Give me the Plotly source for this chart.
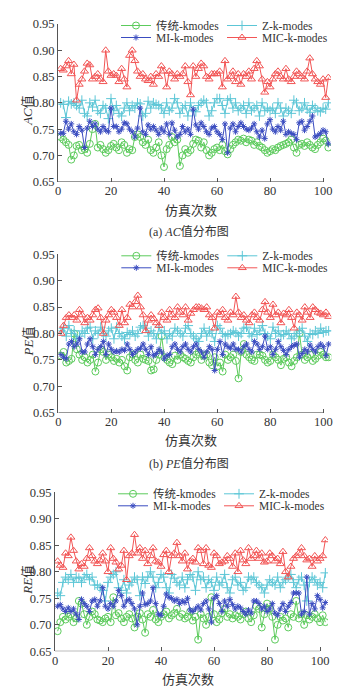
import plotly.graph_objects as go

# ---------------- data ----------------
runs = list(range(1, 103))
series_names = ["传统-kmodes", "Z-k-modes", "MI-k-modes", "MIC-k-modes"]
y_tick_vals = [0.65, 0.70, 0.75, 0.80, 0.85, 0.90, 0.95]
x_tick_vals = [0, 20, 40, 60, 80, 100]
y_titles = ["<i>AC</i>值", "<i>PE</i>值", "<i>RE</i>值"]
captions = ["(a) <i>AC</i>值分布图", "(b) <i>PE</i>值分布图"]
x_title = "仿真次数"

ac_trad = [0.735, 0.730, 0.725, 0.720, 0.692, 0.700, 0.718, 0.720, 0.710, 0.712,
           0.705, 0.722, 0.750, 0.760, 0.715, 0.720, 0.712, 0.705, 0.710, 0.718,
           0.722, 0.715, 0.710, 0.725, 0.720, 0.705, 0.712, 0.710, 0.735, 0.740,
           0.735, 0.725, 0.720, 0.730, 0.710, 0.705, 0.715, 0.725, 0.700, 0.678,
           0.712, 0.720, 0.735, 0.725, 0.730, 0.680, 0.700, 0.712, 0.705, 0.710,
           0.722, 0.730, 0.728, 0.715, 0.725, 0.710, 0.700, 0.705, 0.712, 0.715,
           0.710, 0.720, 0.708, 0.702, 0.712, 0.720, 0.725, 0.730, 0.728, 0.732,
           0.725, 0.730, 0.728, 0.720, 0.725, 0.718, 0.715, 0.710, 0.705, 0.708,
           0.712, 0.710, 0.715, 0.718, 0.720, 0.722, 0.725, 0.730, 0.715, 0.705,
           0.720, 0.722, 0.718, 0.725, 0.720, 0.715, 0.712, 0.720, 0.725, 0.732,
           0.728, 0.715]
ac_z = [0.800, 0.797, 0.772, 0.803, 0.798, 0.800, 0.795, 0.790, 0.805, 0.780,
        0.775, 0.800, 0.792, 0.805, 0.785, 0.780, 0.795, 0.790, 0.770, 0.808,
        0.785, 0.795, 0.780, 0.775, 0.790, 0.800, 0.785, 0.795, 0.790, 0.800,
        0.798, 0.775, 0.780, 0.803, 0.790, 0.800, 0.797, 0.795, 0.790, 0.780,
        0.800, 0.785, 0.790, 0.808, 0.800, 0.780, 0.790, 0.795, 0.775, 0.800,
        0.785, 0.783, 0.795, 0.800, 0.805, 0.800, 0.775, 0.785, 0.800, 0.808,
        0.808, 0.795, 0.780, 0.805, 0.808, 0.790, 0.800, 0.785, 0.790, 0.795,
        0.780, 0.800, 0.785, 0.790, 0.795, 0.775, 0.800, 0.785, 0.790, 0.785,
        0.790, 0.780, 0.800, 0.790, 0.775, 0.790, 0.785, 0.780, 0.805, 0.800,
        0.785, 0.790, 0.800, 0.788, 0.782, 0.795, 0.790, 0.785, 0.783, 0.790,
        0.788, 0.800]
ac_mi = [0.742, 0.742, 0.765, 0.750, 0.760, 0.745, 0.740, 0.755, 0.748, 0.715,
         0.752, 0.765, 0.755, 0.760, 0.750, 0.745, 0.755, 0.748, 0.745, 0.790,
         0.755, 0.755, 0.745, 0.750, 0.762, 0.760, 0.750, 0.745, 0.735, 0.752,
         0.790, 0.745, 0.740, 0.758, 0.750, 0.755, 0.748, 0.740, 0.752, 0.745,
         0.760, 0.740, 0.762, 0.748, 0.735, 0.740, 0.755, 0.745, 0.750, 0.740,
         0.788, 0.758, 0.750, 0.762, 0.755, 0.745, 0.740, 0.752, 0.755, 0.745,
         0.740, 0.730, 0.760, 0.705, 0.752, 0.760, 0.745, 0.755, 0.762, 0.755,
         0.750, 0.748, 0.752, 0.760, 0.745, 0.735, 0.748, 0.732, 0.760, 0.768,
         0.750, 0.745, 0.755, 0.748, 0.765, 0.740, 0.745, 0.742, 0.740, 0.730,
         0.762, 0.765, 0.748, 0.755, 0.765, 0.775, 0.735, 0.738, 0.742, 0.748,
         0.745, 0.722]
ac_mic = [0.865, 0.862, 0.870, 0.880, 0.855, 0.873, 0.805, 0.835, 0.845, 0.860,
          0.875, 0.872, 0.845, 0.850, 0.855, 0.845, 0.840, 0.900, 0.860, 0.852,
          0.855, 0.852, 0.840, 0.865, 0.845, 0.830, 0.890, 0.900, 0.880, 0.860,
          0.850, 0.855, 0.845, 0.842, 0.850, 0.835, 0.855, 0.850, 0.870, 0.860,
          0.830, 0.860, 0.855, 0.845, 0.855, 0.850, 0.855, 0.870, 0.840, 0.815,
          0.870, 0.850, 0.865, 0.875, 0.870, 0.850, 0.845, 0.855, 0.855, 0.855,
          0.860, 0.830, 0.880, 0.845, 0.850, 0.860, 0.840, 0.855, 0.835, 0.855,
          0.850, 0.860, 0.845, 0.865, 0.880, 0.870, 0.845, 0.820, 0.840, 0.830,
          0.845, 0.855, 0.860, 0.850, 0.845, 0.865, 0.845, 0.840, 0.850, 0.860,
          0.855, 0.850, 0.845, 0.860, 0.885, 0.855, 0.845, 0.840, 0.835, 0.845,
          0.810, 0.848]

pe_trad = [0.758, 0.765, 0.745, 0.748, 0.752, 0.800, 0.770, 0.760, 0.750, 0.755,
           0.745, 0.750, 0.760, 0.728, 0.745, 0.770, 0.765, 0.750, 0.760, 0.755,
           0.748, 0.752, 0.745, 0.750, 0.738, 0.730, 0.755, 0.760, 0.750, 0.745,
           0.760, 0.752, 0.750, 0.748, 0.730, 0.732, 0.750, 0.760, 0.795, 0.755,
           0.750, 0.745, 0.742, 0.758, 0.750, 0.760, 0.755, 0.752, 0.748, 0.745,
           0.755, 0.760, 0.765, 0.750, 0.758, 0.760, 0.745, 0.740, 0.755, 0.738,
           0.745, 0.728, 0.760, 0.750, 0.755, 0.760, 0.748, 0.715, 0.765, 0.780,
           0.760, 0.755, 0.750, 0.748, 0.760, 0.760, 0.758, 0.750, 0.745, 0.748,
           0.760, 0.755, 0.750, 0.740, 0.752, 0.755, 0.745, 0.738, 0.748, 0.755,
           0.800, 0.760, 0.750, 0.755, 0.760, 0.748, 0.752, 0.758, 0.765, 0.760,
           0.755, 0.755]
pe_z = [0.805, 0.810, 0.795, 0.815, 0.800, 0.805, 0.790, 0.795, 0.805, 0.800,
        0.810, 0.812, 0.790, 0.805, 0.800, 0.812, 0.800, 0.795, 0.805, 0.810,
        0.790, 0.812, 0.800, 0.795, 0.790, 0.802, 0.798, 0.805, 0.795, 0.800,
        0.812, 0.815, 0.810, 0.795, 0.805, 0.800, 0.790, 0.812, 0.800, 0.805,
        0.790, 0.800, 0.795, 0.810, 0.805, 0.800, 0.795, 0.810, 0.815, 0.800,
        0.795, 0.790, 0.785, 0.800, 0.810, 0.795, 0.805, 0.800, 0.785, 0.815,
        0.810, 0.800, 0.795, 0.798, 0.800, 0.805, 0.802, 0.795, 0.800, 0.810,
        0.812, 0.800, 0.795, 0.810, 0.798, 0.805, 0.815, 0.800, 0.795, 0.790,
        0.812, 0.800, 0.805, 0.795, 0.798, 0.805, 0.800, 0.790, 0.795, 0.800,
        0.805, 0.810, 0.795, 0.785, 0.800, 0.798, 0.805, 0.800, 0.810, 0.802,
        0.805, 0.805]
pe_mi = [0.760, 0.755, 0.752, 0.780, 0.785, 0.775, 0.780, 0.790, 0.765, 0.765,
         0.780, 0.790, 0.775, 0.760, 0.770, 0.775, 0.785, 0.760, 0.780, 0.770,
         0.765, 0.767, 0.765, 0.770, 0.768, 0.780, 0.770, 0.760, 0.765, 0.770,
         0.772, 0.780, 0.770, 0.760, 0.775, 0.758, 0.762, 0.770, 0.765, 0.752,
         0.758, 0.760, 0.775, 0.780, 0.770, 0.765, 0.775, 0.780, 0.770, 0.765,
         0.775, 0.780, 0.770, 0.765, 0.755, 0.765, 0.775, 0.770, 0.730, 0.770,
         0.785, 0.760, 0.780, 0.775, 0.772, 0.780, 0.770, 0.770, 0.765, 0.775,
         0.780, 0.770, 0.765, 0.785, 0.780, 0.770, 0.775, 0.795, 0.770, 0.775,
         0.760, 0.770, 0.785, 0.775, 0.768, 0.760, 0.770, 0.775, 0.778, 0.780,
         0.755, 0.762, 0.770, 0.765, 0.778, 0.770, 0.765, 0.775, 0.780, 0.775,
         0.758, 0.780]
pe_mic = [0.800, 0.815, 0.830, 0.835, 0.830, 0.835, 0.825, 0.845, 0.835, 0.820,
          0.830, 0.825, 0.835, 0.845, 0.848, 0.830, 0.800, 0.825, 0.835, 0.845,
          0.840, 0.830, 0.815, 0.845, 0.820, 0.830, 0.855, 0.850, 0.860, 0.872,
          0.850, 0.835, 0.805, 0.825, 0.835, 0.828, 0.820, 0.815, 0.840, 0.830,
          0.825, 0.845, 0.835, 0.830, 0.850, 0.840, 0.835, 0.850, 0.825, 0.838,
          0.845, 0.850, 0.850, 0.848, 0.845, 0.850, 0.835, 0.830, 0.810, 0.840,
          0.835, 0.845, 0.830, 0.825, 0.840, 0.835, 0.870, 0.840, 0.830, 0.835,
          0.825, 0.820, 0.835, 0.840, 0.830, 0.825, 0.845, 0.860, 0.840, 0.830,
          0.855, 0.835, 0.840, 0.820, 0.838, 0.835, 0.845, 0.830, 0.810, 0.840,
          0.835, 0.825, 0.850, 0.840, 0.830, 0.850, 0.845, 0.840, 0.838, 0.835,
          0.840, 0.832]

re_trad = [0.688, 0.705, 0.715, 0.710, 0.715, 0.720, 0.705, 0.712, 0.745, 0.740,
           0.720, 0.700, 0.715, 0.725, 0.720, 0.710, 0.708, 0.705, 0.712, 0.715,
           0.705, 0.752, 0.718, 0.722, 0.712, 0.705, 0.715, 0.720, 0.712, 0.695,
           0.715, 0.722, 0.710, 0.685, 0.720, 0.715, 0.728, 0.710, 0.705, 0.715,
           0.720, 0.725, 0.712, 0.718, 0.722, 0.730, 0.715, 0.720, 0.712, 0.715,
           0.725, 0.708, 0.715, 0.672, 0.720, 0.712, 0.700, 0.715, 0.752, 0.720,
           0.705, 0.710, 0.722, 0.730, 0.715, 0.720, 0.712, 0.718, 0.715, 0.710,
           0.720, 0.725, 0.712, 0.705, 0.718, 0.735, 0.730, 0.695, 0.720, 0.740,
           0.730, 0.715, 0.672, 0.700, 0.715, 0.708, 0.712, 0.695, 0.720, 0.715,
           0.745, 0.712, 0.720, 0.700, 0.718, 0.710, 0.715, 0.720, 0.712, 0.705,
           0.718, 0.705]
re_z = [0.760, 0.755, 0.780, 0.790, 0.785, 0.795, 0.780, 0.790, 0.788, 0.780,
        0.790, 0.795, 0.785, 0.790, 0.775, 0.775, 0.770, 0.765, 0.745, 0.780,
        0.790, 0.795, 0.800, 0.770, 0.765, 0.785, 0.760, 0.775, 0.780, 0.790,
        0.785, 0.755, 0.790, 0.778, 0.790, 0.800, 0.790, 0.770, 0.780, 0.795,
        0.790, 0.770, 0.760, 0.795, 0.788, 0.780, 0.775, 0.790, 0.770, 0.785,
        0.795, 0.790, 0.765, 0.800, 0.785, 0.790, 0.770, 0.785, 0.780, 0.765,
        0.790, 0.775, 0.780, 0.795, 0.770, 0.760, 0.785, 0.790, 0.775, 0.780,
        0.765, 0.770, 0.790, 0.785, 0.790, 0.780, 0.775, 0.770, 0.760, 0.775,
        0.785, 0.780, 0.775, 0.790, 0.770, 0.780, 0.785, 0.790, 0.795, 0.780,
        0.770, 0.785, 0.790, 0.775, 0.745, 0.780, 0.790, 0.785, 0.775, 0.780,
        0.770, 0.798]
re_mi = [0.735, 0.738, 0.730, 0.725, 0.732, 0.725, 0.730, 0.720, 0.710, 0.748,
         0.740, 0.735, 0.725, 0.745, 0.748, 0.735, 0.745, 0.770, 0.735, 0.730,
         0.740, 0.735, 0.745, 0.765, 0.755, 0.735, 0.745, 0.748, 0.740, 0.730,
         0.700, 0.735, 0.760, 0.738, 0.740, 0.745, 0.770, 0.740, 0.720, 0.718,
         0.735, 0.758, 0.752, 0.750, 0.745, 0.748, 0.740, 0.745, 0.742, 0.750,
         0.728, 0.725, 0.730, 0.735, 0.728, 0.740, 0.745, 0.730, 0.705, 0.750,
         0.755, 0.740, 0.725, 0.745, 0.735, 0.748, 0.738, 0.730, 0.735, 0.732,
         0.725, 0.720, 0.728, 0.722, 0.745, 0.745, 0.740, 0.730, 0.735, 0.725,
         0.730, 0.740, 0.722, 0.718, 0.730, 0.740, 0.725, 0.735, 0.742, 0.760,
         0.760, 0.760, 0.720, 0.725, 0.790, 0.720, 0.740, 0.730, 0.755, 0.748,
         0.732, 0.742]
re_mic = [0.820, 0.812, 0.808, 0.835, 0.830, 0.865, 0.840, 0.820, 0.805, 0.815,
          0.810, 0.825, 0.845, 0.830, 0.820, 0.815, 0.822, 0.835, 0.820, 0.800,
          0.845, 0.825, 0.818, 0.805, 0.812, 0.840, 0.785, 0.830, 0.835, 0.870,
          0.835, 0.845, 0.825, 0.840, 0.815, 0.830, 0.845, 0.820, 0.818, 0.810,
          0.832, 0.840, 0.800, 0.830, 0.835, 0.855, 0.830, 0.820, 0.835, 0.805,
          0.820, 0.825, 0.818, 0.845, 0.840, 0.815, 0.845, 0.812, 0.808, 0.835,
          0.830, 0.815, 0.818, 0.820, 0.830, 0.825, 0.810, 0.835, 0.800, 0.840,
          0.822, 0.815, 0.845, 0.825, 0.830, 0.840, 0.825, 0.835, 0.818, 0.820,
          0.835, 0.830, 0.820, 0.825, 0.815, 0.838, 0.800, 0.790, 0.810, 0.825,
          0.830, 0.835, 0.845, 0.830, 0.822, 0.825, 0.810, 0.830, 0.820, 0.825,
          0.830, 0.860]

panels = [
    [ac_trad, ac_z, ac_mi, ac_mic],
    [pe_trad, pe_z, pe_mi, pe_mic],
    [re_trad, re_z, re_mi, re_mic],
]

# ---------------- styling ----------------
PAGE_W, PAGE_H = 356, 687
OFF = 8                                  # default page (body) margin
W, H = PAGE_W - OFF, PAGE_H - OFF        # figure size so it fills the window


def fx(px):   # page x pixel -> paper fraction
    return (px - OFF) / W


def fy(py):   # page y pixel -> paper fraction
    return (H - (py - OFF)) / H


FONT = "Liberation Serif, Times New Roman, Noto Sans CJK SC, serif"
TXT = "#333"
colors = ["#5ccb5c", "#5cc6d6", "#3a4cc0", "#f25555"]
symbols = ["circle-open", "cross-thin-open", "asterisk-open", "triangle-up-open"]
msizes = [7, 7, 5, 7]
legend_slot = [(0, 0), (1, 0), (0, 1), (1, 1)]   # (column, row) of each series
legend_col_x = [116, 222]          # left edge of legend box, page px
legend_row_dy = [1.5, 13.5]        # item centre below plot top, px

plot_px = [
    dict(top=24.0, bottom=181.7, left=58.0, right=331.0),
    dict(top=254.3, bottom=412.7, left=58.3, right=331.3),
    dict(top=492.3, bottom=651.3, left=55.0, right=328.0),
]
xtitle_y = [210, 440, 679]
caption_y = [231.5, 463]

fig = go.Figure()
legend_layouts = {}
annotations = []
shapes = []
leg_idx = 0

for p, (vals, g) in enumerate(zip(panels, plot_px)):
    xa = "x" if p == 0 else f"x{p+1}"
    ya = "y" if p == 0 else f"y{p+1}"
    for s in range(4):
        leg_idx += 1
        key = "legend" if leg_idx == 1 else f"legend{leg_idx}"
        col, row = legend_slot[s]
        legend_layouts[key] = dict(
            x=fx(legend_col_x[col] + (g["left"] - 58)),
            y=fy(g["top"] + legend_row_dy[row]),
            xanchor="left", yanchor="middle", orientation="v",
            bgcolor="rgba(0,0,0,0)", borderwidth=0,
            font=dict(family=FONT, size=11.5, color=TXT),
        )
        fig.add_trace(go.Scatter(
            x=runs, y=vals[s], mode="lines+markers", name=series_names[s],
            xaxis=xa, yaxis=ya, legend=key,
            line=dict(color=colors[s], width=1),
            marker=dict(symbol=symbols[s], size=msizes[s], color=colors[s],
                        line=dict(width=1, color=colors[s])),
        ))
    xkey = "xaxis" if p == 0 else f"xaxis{p+1}"
    ykey = "yaxis" if p == 0 else f"yaxis{p+1}"
    fig.layout[xkey] = dict(
        domain=[fx(g["left"]), fx(g["right"])], anchor=ya, range=[0, 103],
        tickvals=x_tick_vals, ticks="inside", ticklen=4, tickcolor="#555",
        showline=False, showgrid=False, zeroline=False,
        tickfont=dict(family=FONT, size=12.5, color=TXT),
    )
    fig.layout[ykey] = dict(
        domain=[fy(g["bottom"]), fy(g["top"])], anchor=xa,
        range=[0.65, 0.95], tickvals=y_tick_vals, tickformat=".2f",
        ticks="inside", ticklen=4, tickcolor="#555",
        showline=True, linecolor="#555", linewidth=1,
        showgrid=False, zeroline=False,
        tickfont=dict(family=FONT, size=12.5, color=TXT),
    )
    shapes.append(dict(type="line", xref=xa, yref=ya, x0=x_tick_vals[0], x1=x_tick_vals[-1],
                       y0=y_tick_vals[0], y1=y_tick_vals[0], line=dict(color="#555", width=1)))
    annotations.append(dict(text=y_titles[p], xref="paper", yref="paper",
                            x=fx(28), y=fy((g["top"] + g["bottom"]) / 2 + 8),
                            textangle=-90, showarrow=False, xanchor="center", yanchor="middle",
                            font=dict(family=FONT, size=13, color=TXT)))
    annotations.append(dict(text=x_title, xref="paper", yref="paper",
                            x=fx(g["left"] + 2.65 * 50), y=fy(xtitle_y[p]),
                            showarrow=False, xanchor="center", yanchor="middle",
                            font=dict(family=FONT, size=13, color=TXT)))
    if p < 2:
        annotations.append(dict(text=captions[p], xref="paper", yref="paper",
                                x=fx(189), y=fy(caption_y[p]),
                                showarrow=False, xanchor="center", yanchor="middle",
                                font=dict(family=FONT, size=12, color=TXT)))

fig.update_layout(
    width=W, height=H, margin=dict(l=0, r=0, t=0, b=0, autoexpand=False),
    paper_bgcolor="white", plot_bgcolor="white",
    showlegend=True, annotations=annotations, shapes=shapes,
    font=dict(family=FONT, size=12, color=TXT),
    **legend_layouts,
)

fig.write_html("out.html")
